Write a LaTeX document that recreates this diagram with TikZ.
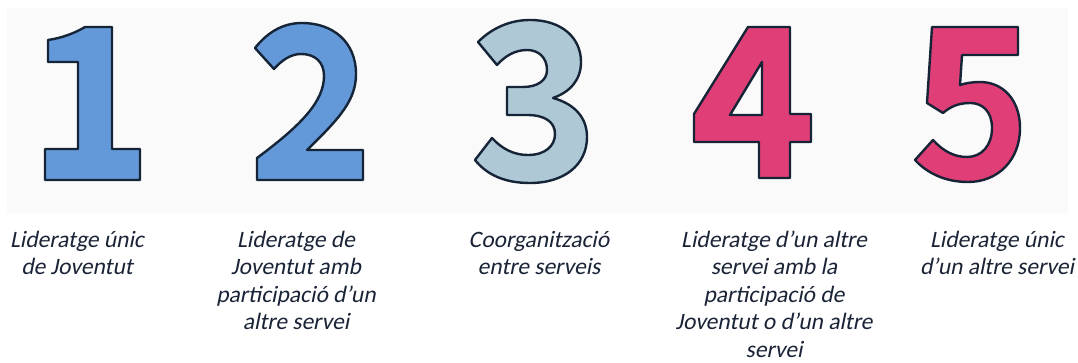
\documentclass[tikz,border=0pt]{standalone}
\usepackage{fontspec}
\newfontfamily\labfont{Carlito}[FakeSlant=0.2]
\definecolor{bgc}{RGB}{250,250,250}
\definecolor{outl}{RGB}{22,36,56}
\definecolor{dblue}{RGB}{99,153,217}
\definecolor{dgrey}{RGB}{175,200,214}
\definecolor{dpink}{RGB}{224,62,118}
\definecolor{txtc}{RGB}{26,36,54}
\tikzset{
  digit/.style={draw=outl, line width=2.4pt, line join=round},
  lab/.style={anchor=north, inner sep=0pt, align=center, text=txtc,
    font=\labfont\fontsize{23.5}{27.5}\selectfont}
}
\begin{document}
\begin{tikzpicture}[x=1pt,y=-1pt]
\useasboundingbox (0,0) rectangle (1078,363);
\fill[bgc] (7,8) rectangle (1068,213);
% 1
\path[digit, fill=dblue] (48,40) -- (48,62) -- (78,62) -- (78,149) -- (45,149) -- (45,180)
  -- (140,180) -- (140,149) -- (112,149) -- (112,27) -- (85,27)
  .. controls (75,33) and (62,38) .. (48,40) -- cycle;
% 2
\path[digit, fill=dblue] (257,180) -- (363,180) -- (363,150) -- (307,150)
  .. controls (340,118) and (356,100) .. (356,74)
  .. controls (356,42) and (333,23) .. (302,23)
  .. controls (282,23) and (267,33) .. (255,48) -- (274,69)
  .. controls (282,60) and (291,54) .. (301,54)
  .. controls (315,54) and (324,62) .. (324,76)
  .. controls (324,102) and (300,126) .. (257,158) -- cycle;
% 3
\path[digit, fill=dgrey] (478,42)
  .. controls (492,28) and (510,20) .. (530,20)
  .. controls (562,20) and (581,38) .. (581,62)
  .. controls (581,80) and (570,92) .. (553,98)
  .. controls (575,104) and (587,118) .. (587,137)
  .. controls (587,165) and (564,183) .. (530,183)
  .. controls (505,183) and (487,175) .. (475,160) -- (492,138)
  .. controls (502,149) and (514,155) .. (528,155)
  .. controls (545,155) and (555,146) .. (555,134)
  .. controls (555,122) and (545,115) .. (527,115) -- (507,115) -- (507,87) -- (523,87)
  .. controls (538,87) and (547,80) .. (547,70)
  .. controls (547,58) and (539,50) .. (527,50)
  .. controls (515,50) and (505,56) .. (497,65) -- cycle;
% 4
\path[digit, fill=dpink, even odd rule] (748,27) -- (790,27) -- (790,114) -- (811,114) -- (811,142)
  -- (790,142) -- (790,178) -- (759,178) -- (759,142) -- (694,142) -- (694,114) -- cycle
  (730,115) -- (762,115) -- (762,62) -- cycle;
% 5
\path[digit, fill=dpink] (932,27) -- (1018,27) -- (1018,55) -- (962,55) -- (960,85)
  .. controls (966,83) and (973,82) .. (980,82)
  .. controls (1003,82) and (1020,100) .. (1020,128)
  .. controls (1020,160) and (998,182) .. (968,182)
  .. controls (945,182) and (927,173) .. (915,160) -- (933,140)
  .. controls (943,151) and (954,157) .. (967,157)
  .. controls (982,157) and (992,145) .. (992,128)
  .. controls (992,112) and (983,103) .. (970,103)
  .. controls (958,103) and (950,107) .. (943,113) -- (927,103) -- cycle;
% labels
\node[lab] (t1) at (77,229) {\rule{0pt}{18pt}Lideratge únic\\de Joventut};
\node[lab] (t2) at (296,229) {\rule{0pt}{18pt}Lideratge de\\Joventut amb\\participació d’un\\altre servei};
\node[lab] (t3) at (539,229) {\rule{0pt}{18pt}Coorganització\\entre serveis};
\node[lab] (t4) at (774,229) {\rule{0pt}{18pt}Lideratge d’un altre\\servei amb la\\participació de\\Joventut o d’un altre\\servei};
\node[lab] (t5) at (997,229) {\rule{0pt}{18pt}Lideratge únic\\d’un altre servei};
\end{tikzpicture}
\end{document}
